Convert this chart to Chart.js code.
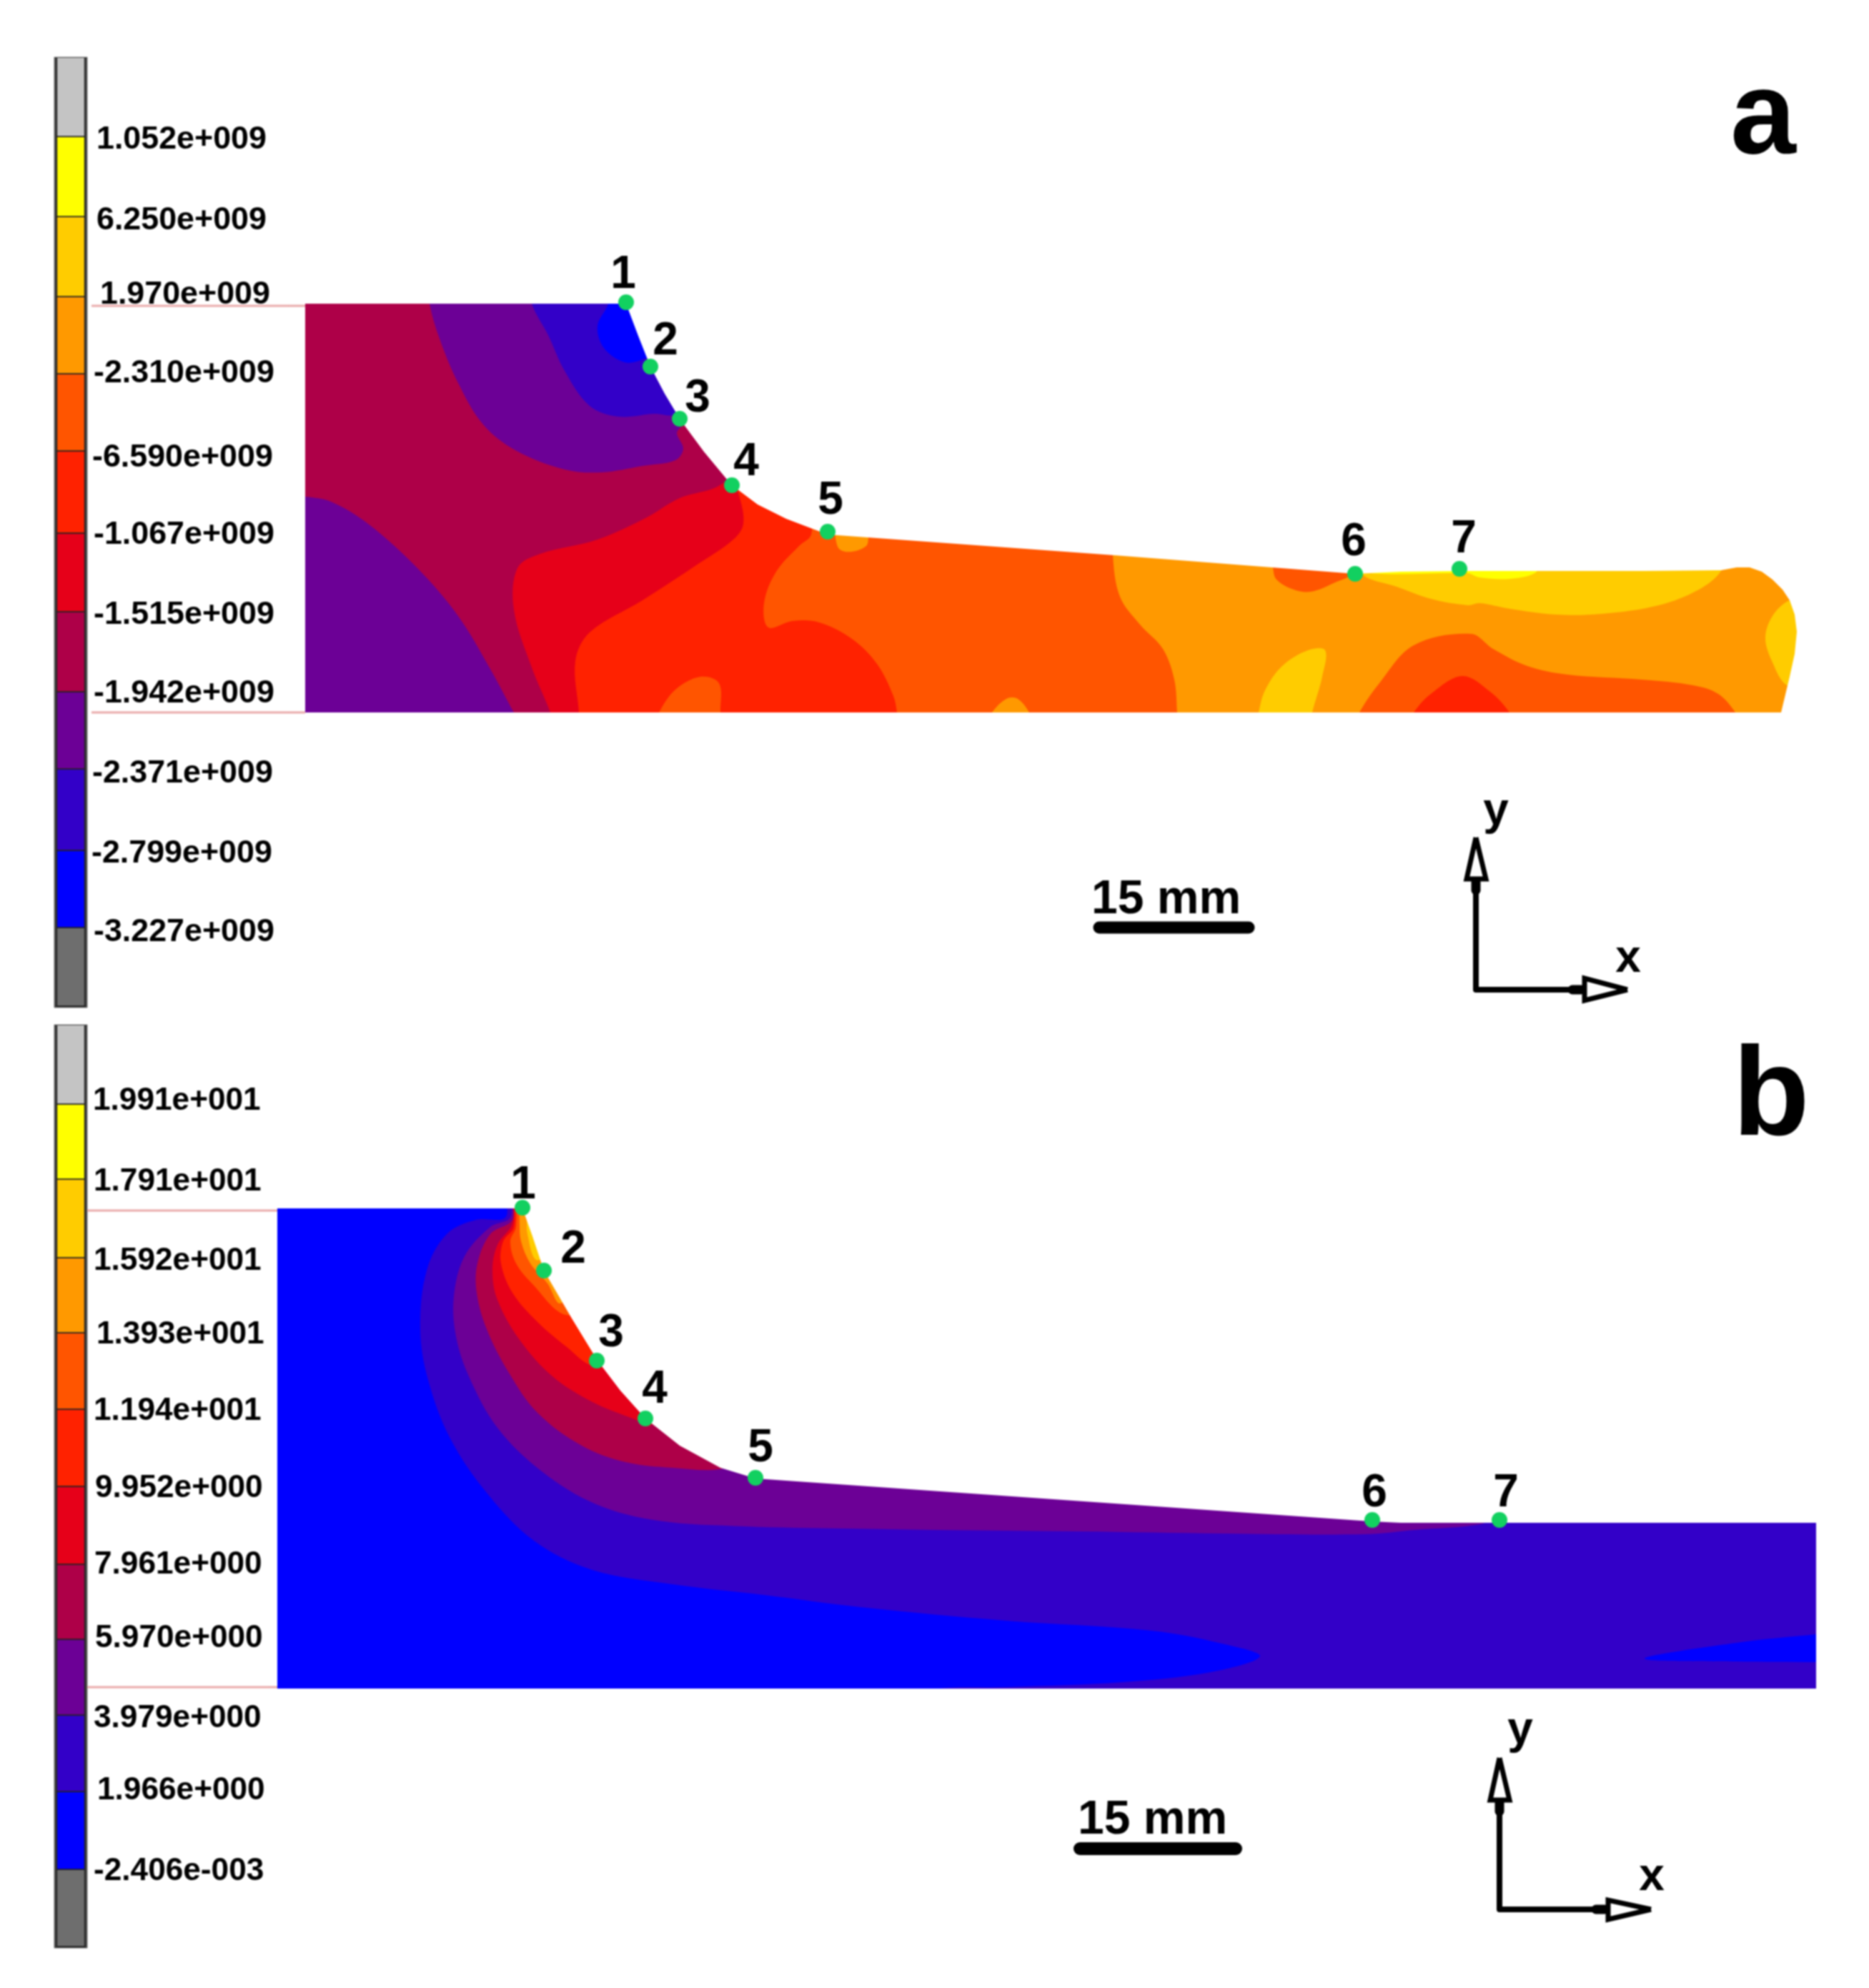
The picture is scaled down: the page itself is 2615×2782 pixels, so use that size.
<!DOCTYPE html>
<html><head><meta charset="utf-8">
<style>html,body{margin:0;padding:0;background:#fff}canvas{display:block;filter:blur(0.8px)}</style>
<script src="https://cdn.jsdelivr.net/npm/chart.js@4"></script>
</head><body><canvas id="c" width="2615" height="2782"></canvas>
<script>
// ---------- colour scale ----------
const scaleColors = ['#c4c4c4','#ffff00','#ffcc00','#ff9900','#ff5500','#ff2200','#e60019','#ae0048','#6c0096','#3300c8','#0000ff','#6e6e6e'];
const barEdgesA = [81,192,304,416,524,632,747,857,969,1077,1191,1299,1409];
const barEdgesB = [1435,1546,1651,1761,1866,1973,2081,2190,2295,2401,2508,2617,2725];
const barCentre = [99];
const tickLabelsA = ['1.052e+009','6.250e+009','1.970e+009','-2.310e+009','-6.590e+009','-1.067e+009','-1.515e+009','-1.942e+009','-2.371e+009','-2.799e+009','-3.227e+009'];
const tickXA = [135,135,140,131,129,131,131,131,129,128,131];
const tickYA = [196,309,413,523,641,749,861,971,1083,1195,1305];
const tickLabelsB = ['1.991e+001','1.791e+001','1.592e+001','1.393e+001','1.194e+001','9.952e+000','7.961e+000','5.970e+000','3.979e+000','1.966e+000','-2.406e-003'];
const tickXB = [130,131,131,135,131,133,132,133,131,136,131];
const tickYB = [1541,1654,1765,1868,1975,2083,2190,2293,2405,2506,2619];

// ---------- outlines ----------
const outlineA = [[427,425],[876,425],[893,470],[910,513],[930,551],[951,586],[985,632],[1024,679],[1060,706],[1100,726],[1158,748],[1559,777],[1896,803],[1960,800],[2042,799],[2300,799],[2408,798],[2430,794],[2448,794],[2465,800],[2480,811],[2494,825],[2504,840],[2511,860],[2514,884],[2511,915],[2504,947],[2492,997],[427,997]];
const outlineB = [[388,1691],[731,1691],[745,1730],[761,1778],[800,1845],[836,1904],[868,1946],[903,1985],[951,2023],[1008,2054],[1057,2069],[1918,2129],[1960,2131],[2541,2131],[2541,2363],[388,2363]];
const maskFrameA = [[405,380],[405,1420],[2615,1420],[2615,380]];
const maskFrameB = [[375,1650],[375,2782],[2615,2782],[2615,1650]];

// ---------- panel a contours ----------
const aPurpleTop = [[601,400],[601,425],[615,474],[641,536],[676,594],[721,630],[790,657],[842,661],[899,652],[945,644],[956,628],[948,603],[1000,560],[1000,400]];
const aIndigoTop = [[744,400],[744,425],[767,469],[790,519],[825,568],[865,583],[917,579],[942,581],[1000,560],[1000,400]];
const aBlueTop = [[851,400],[851,425],[836,456],[845,487],[874,507],[899,503],[950,480],[950,400]];
const aPurpleLeft = [[410,695],[427,695],[463,702],[515,733],[584,795],[641,862],[687,938],[719,997],[725,1005],[410,1005]];
const aCrimsonRed = [[770,1005],[770,997],[744,934],[719,853],[724,795],[756,775],[836,755],[905,724],[951,697],[997,684],[1017,673],[1040,660],[2550,660],[2550,1005]];
const aRed = [[810,1005],[810,997],[805,925],[825,885],[899,840],[974,791],[1026,755],[1040,733],[1034,693],[1020,660],[2550,660],[2550,1005]];
const aRedOrange = [[1135,700],[1135,748],[1118,764],[1086,800],[1069,844],[1075,878],[1109,869],[1146,871],[1192,894],[1227,929],[1250,974],[1255,997],[1255,1005],[2550,1005],[2550,700]];
const aIslandLow = [[922,1005],[922,997],[945,965],[980,947],[1006,956],[1008,997],[1008,1005]];
const aOrange = [[1557,700],[1557,777],[1567,835],[1595,874],[1627,908],[1643,951],[1647,997],[1647,1005],[2550,1005],[2550,700]];
const aOrangeSpot = [[1169,740],[1169,753],[1175,769],[1192,772],[1212,764],[1215,753],[1215,740]];
const aOrangeLow = [[1388,1005],[1388,997],[1408,978],[1424,978],[1440,997],[1440,1005]];
const aBlobSix = [[1781,780],[1781,794],[1786,811],[1810,825],[1834,828],[1866,816],[1894,801],[1894,780]];
const aGoldTop = [[1906,780],[1906,804],[1954,821],[2002,838],[2054,847],[2070,844],[2113,852],[2177,860],[2241,859],[2321,847],[2377,825],[2408,799],[2408,780]];
const aYellowTop = [[1910,785],[1910,801],[2040,802],[2054,802],[2070,808],[2113,810],[2149,801],[2149,785]];
const aGoldRight = [[2530,840],[2504,840],[2480,862],[2470,893],[2480,927],[2500,959],[2530,959]];
const aGoldLow = [[1761,1005],[1761,997],[1770,966],[1794,932],[1830,910],[1854,910],[1850,947],[1836,997],[1836,1005]];
const aRedOrangeLow = [[1902,1005],[1902,997],[1930,956],[1978,903],[2058,887],[2089,908],[2137,932],[2193,944],[2297,951],[2369,959],[2404,971],[2428,997],[2428,1005]];
const aRedLow = [[1978,1005],[1978,997],[2002,971],[2046,946],[2085,968],[2112,997],[2112,1005]];

// ---------- panel b contours ----------
const bIndigo = [[707,1670],[707,1704],[666,1707],[625,1727],[597,1778],[588,1860],[599,1931],[630,2013],[681,2089],[747,2156],[829,2197],[941,2217],[1069,2232],[1204,2249],[1408,2268],[1612,2282],[1714,2301],[1763,2318],[1694,2340],[1571,2354],[1408,2361],[1306,2364],[1306,2375],[2550,2375],[2550,1670]];
const bBlueRight = [[2550,2287],[2541,2287],[2429,2299],[2301,2321],[2429,2325],[2541,2326],[2550,2326]];
const bPurple = [[714,1670],[714,1704],[686,1717],[650,1758],[635,1814],[638,1870],[656,1926],[696,1998],[758,2059],[834,2105],[921,2128],[1043,2136],[1180,2139],[1306,2141],[1510,2143],[1714,2146],[1908,2147],[1980,2141],[2071,2133],[2100,2120],[2100,1670]];
const bCrimson = [[717,1670],[717,1707],[686,1727],[668,1768],[667,1809],[681,1860],[712,1921],[752,1977],[814,2023],[875,2046],[941,2054],[1008,2056],[1040,2040],[1040,1670]];
const bRed = [[717,1670],[717,1712],[696,1742],[689,1778],[696,1819],[727,1875],[773,1926],[829,1962],[890,1987],[910,1995],[950,1950],[950,1670]];
const bRedOrange = [[719,1670],[719,1717],[704,1737],[701,1768],[717,1809],[752,1850],[793,1885],[829,1911],[860,1900],[860,1670]];
const bOrangeRed = [[722,1670],[722,1717],[714,1737],[722,1768],[747,1799],[788,1839],[820,1830],[820,1670]];
const bOrange = [[727,1670],[727,1712],[729,1737],[742,1768],[766,1796],[783,1824],[800,1800],[800,1670]];
const bGold = [[737,1670],[737,1707],[738,1727],[750,1763],[770,1750],[770,1670]];

// ---------- probes, annotations ----------
const probeXA = [876,910,951,1024,1158,1896,2042];
const probeYA = [423,513,586,679,744,803,796];
const probeXB = [731,761,835,903,1057,1920,2098];
const probeYB = [1690,1778,1904,1985,2068,2127,2127];
const probeNames = ['1','2','3','4','5','6','7'];
const probeLabelXA = [872,931,976,1044,1162,1894,2048];
const probeLabelYA = [385,478,558,647,701,759,755];
const probeLabelXB = [732,802,855,916,1064,1923,2107];
const probeLabelYB = [1659,1749,1866,1945,2027,2090,2090];
const scaleBarA = [[1538,1298],[1747,1298]];
const scaleBarB = [[1511,2587],[1729,2587]];
const axisShaftsA = [[[2065,1230],[2065,1385],[2217,1385]]];
const axisShaftsB = [[[2098,2519],[2098,2672],[2250,2672]]];
const arrowDotsA = [[[2065,1234],[2065,1246]],[[2200,1385],[2212,1385]]];
const arrowDotsB = [[[2098,2523],[2098,2535]],[[2233,2672],[2245,2672]]];
const arrowHeadsA = [[[2065,1172],[2052,1230],[2079,1230]],[[2277,1385],[2217,1369],[2217,1400]]];
const arrowHeadsB = [[[2098,2460],[2085,2519],[2112,2519]],[[2310,2672],[2250,2659],[2250,2686]]];

const pts = a => a.map(([x,y]) => ({x,y}));
const bands = edges => edges.slice(0,-1).map((e,i) => ({x:barCentre[0], y:[e,edges[i+1]]}));
// a point beside a long closing edge is doubled so the spline stays sharp there
const sharpen = a => {
  const out = [];
  a.forEach(([x,y],i) => {
    const p = a[(i-1+a.length)%a.length], n = a[(i+1)%a.length];
    const long = Math.hypot(x-p[0],y-p[1])>260 || Math.hypot(x-n[0],y-n[1])>260;
    out.push([x,y]); if (long) out.push([x,y]);
  });
  return out;
};

const C = {y:'#ffff00',g:'#ffcc00',o:'#ff9900',ro:'#ff5500',r:'#ff2200',cr:'#e60019',c:'#ae0048',p:'#6c0096',i:'#3300c8',b:'#0000ff'};
const poly = (a,color,tension=0.35) => ({type:'scatter',data:pts(tension?sharpen(a):a),showLine:true,fill:'shape',backgroundColor:color,borderWidth:0,pointRadius:0,tension});
const stroke = (a,color,w,cap='butt') => ({type:'scatter',data:pts(a),showLine:true,fill:false,borderColor:color,borderWidth:w,borderCapStyle:cap,borderJoinStyle:'round',pointRadius:0,tension:0});
const mask = (o,f) => poly([...o,o[0],...f,f[0]],'#ffffff',0);
const barSet = (e,w,colors,bc,bw) => ({type:'bar',data:bands(e),grouped:false,barThickness:w,backgroundColor:colors,borderColor:bc,borderWidth:bw});
const frame = e => ({type:'bar',data:[{x:barCentre[0],y:[e[0]-1,e[e.length-1]+1]}],grouped:false,barThickness:46,backgroundColor:'#4a4a4a',borderWidth:0});
const probes = (xs,ys) => ({type:'scatter',data:xs.map((x,i)=>({x,y:ys[i]})),showLine:false,pointRadius:11,pointBackgroundColor:'#12d060',pointBorderWidth:0});
const head = a => ({type:'scatter',data:pts([...a,a[0]]),showLine:true,fill:'shape',backgroundColor:'#ffffff',borderColor:'#000',borderWidth:7,borderJoinStyle:'miter',pointRadius:0,tension:0});

const list = [
  frame(barEdgesA), frame(barEdgesB),
  barSet(barEdgesA,41,scaleColors,'#222222',2), barSet(barEdgesB,41,scaleColors,'#222222',2),
  poly(outlineA,C.c,0),
  poly(aPurpleTop,C.p),poly(aIndigoTop,C.i),poly(aBlueTop,C.b),poly(aPurpleLeft,C.p),
  poly(aCrimsonRed,C.cr),poly(aRed,C.r),poly(aIslandLow,C.ro),poly(aRedOrange,C.ro),
  poly(aOrangeSpot,C.o),poly(aOrangeLow,C.o),poly(aOrange,C.o),poly(aBlobSix,C.ro),
  poly(aGoldTop,C.g),poly(aYellowTop,C.y),poly(aGoldRight,C.g),poly(aGoldLow,C.g),
  poly(aRedOrangeLow,C.ro),poly(aRedLow,C.r),
  mask(outlineA,maskFrameA),
  poly(outlineB,C.b,0),
  poly(bIndigo,C.i),poly(bBlueRight,C.b),poly(bPurple,C.p),poly(bCrimson,C.c),poly(bRed,C.cr),
  poly(bRedOrange,C.r),poly(bOrangeRed,C.ro),poly(bOrange,C.o),poly(bGold,C.g),
  mask(outlineB,maskFrameB),
  stroke([[128,428],[427,428]],'#e9a9a9',3),stroke([[128,997],[427,997]],'#e9a9a9',3),
  stroke([[122,1694],[388,1694]],'#e9a9a9',3),stroke([[122,2361],[388,2361]],'#e9a9a9',3),
  stroke(scaleBarA,'#000',17,'round'),stroke(scaleBarB,'#000',18,'round'),
  ...axisShaftsA.map(a=>stroke(a,'#000',8)),...axisShaftsB.map(a=>stroke(a,'#000',8)),
  ...arrowDotsA.map(a=>stroke(a,'#000',13,'round')),...arrowDotsB.map(a=>stroke(a,'#000',13,'round')),
  ...arrowHeadsA.map(head),...arrowHeadsB.map(head),
  probes(probeXA,probeYA),probes(probeXB,probeYB)
];
list.forEach((d,i)=>{d.order=list.length-i;});

const textItems = [];
const addText = (s,x,y,size,align='left') => textItems.push({s,x,y,size,align});
tickLabelsA.forEach((s,i)=>addText(s,tickXA[i],tickYA[i],44.8));
tickLabelsB.forEach((s,i)=>addText(s,tickXB[i],tickYB[i],44.2));
probeNames.forEach((s,i)=>{addText(s,probeLabelXA[i],probeLabelYA[i],64,'center');addText(s,probeLabelXB[i],probeLabelYB[i],64,'center');});
addText('a',2467,168,165,'center');
addText('b',2478,1539,176,'center');
addText('15 mm',1527,1260,66);
addText('15 mm',1508,2548,66);
addText('y',2093,1136,64,'center');
addText('x',2278,1342,64,'center');
addText('y',2127,2422,64,'center');
addText('x',2311,2627,64,'center');

const textPlugin = {
  id:'plotText',
  afterDatasetsDraw(chart){
    const {ctx,scales:{x,y}} = chart;
    ctx.save();
    ctx.fillStyle = '#000';
    ctx.textBaseline = 'middle';
    for (const t of textItems){
      ctx.font = `bold ${t.size}px "Liberation Sans", Arial, sans-serif`;
      ctx.textAlign = t.align;
      ctx.fillText(t.s, x.getPixelForValue(t.x), y.getPixelForValue(t.y));
    }
    ctx.restore();
  }
};

new Chart(document.getElementById('c'),{
  type:'scatter',
  data:{datasets:list},
  plugins:[textPlugin],
  options:{
    responsive:false,animation:false,devicePixelRatio:1,events:[],
    layout:{padding:0,autoPadding:false},
    plugins:{legend:{display:false},tooltip:{enabled:false},title:{display:false}},
    scales:{
      x:{type:'linear',min:0,max:2615,display:false,offset:false},
      y:{type:'linear',min:0,max:2782,reverse:true,display:false}
    }
  }
});
</script></body></html>
